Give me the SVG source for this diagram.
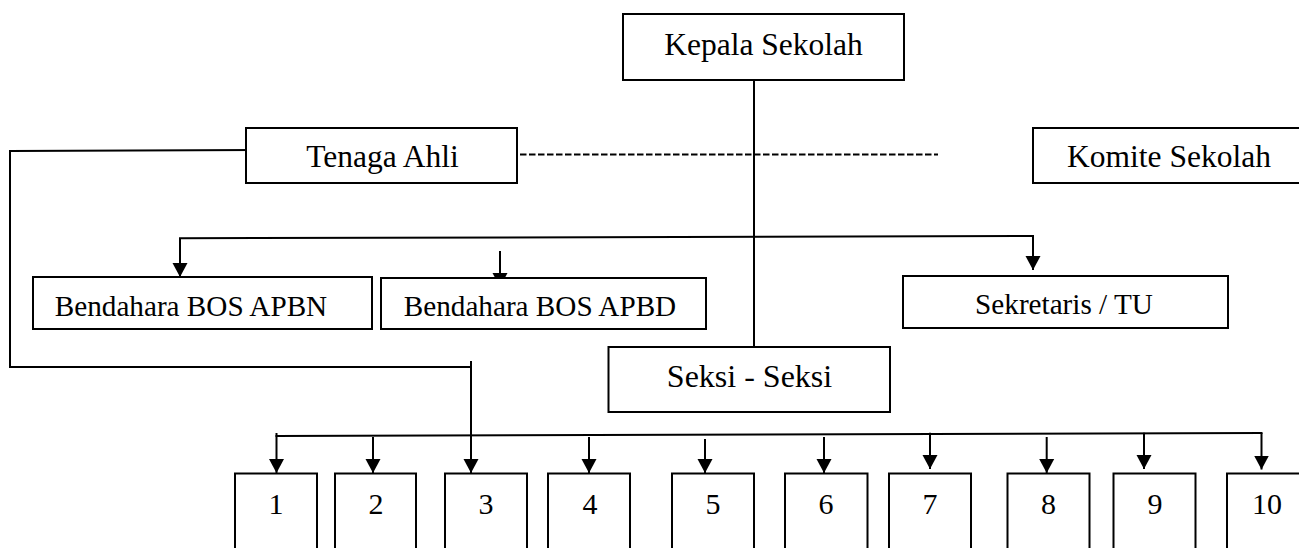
<svg xmlns="http://www.w3.org/2000/svg" width="1299" height="548" viewBox="0 0 1299 548">
<style>
.box{fill:#fff;stroke:#000;stroke-width:2}
.t{font-family:"Liberation Serif","Times New Roman",serif;fill:#000;text-anchor:middle}
.c{fill:none;stroke:#000;stroke-width:2}
.a{fill:none;stroke:#000;stroke-width:2;marker-end:url(#arr)}
.d{fill:none;stroke:#000;stroke-width:1.8;stroke-dasharray:6.5 2.5}
</style>
<defs>
<marker id="arr" markerUnits="userSpaceOnUse" markerWidth="16" markerHeight="16" viewBox="0 0 16 16" refX="14" refY="8" orient="auto">
<path d="M0,0.5 L14,8 L0,15.5 z" fill="#000"/>
</marker>
</defs>
<rect width="1299" height="548" fill="#fff"/>
<g id="connectors">
<line class="c" x1="754" y1="80" x2="754" y2="347"/>
<line class="d" x1="520" y1="154.5" x2="938" y2="154.5"/>
<polyline class="c" points="517,149 10,151 10,367 471,367"/>
<line class="a" x1="471" y1="361" x2="471" y2="473"/>
<line class="c" x1="179" y1="238.3" x2="1034" y2="236"/>
<line class="a" x1="180" y1="238" x2="180" y2="277"/>
<line class="a" x1="500" y1="251" x2="500" y2="287"/>
<line class="a" x1="1033" y1="236" x2="1033" y2="270"/>
<line class="c" x1="275.5" y1="436" x2="1262.5" y2="433"/>
<line class="a" x1="276.5" y1="433" x2="276.5" y2="473"/>
<line class="a" x1="373" y1="437" x2="373" y2="473"/>
<line class="a" x1="589" y1="437" x2="589" y2="473"/>
<line class="a" x1="705" y1="439" x2="705" y2="473"/>
<line class="a" x1="824" y1="437" x2="824" y2="473"/>
<line class="a" x1="930" y1="432.7" x2="930" y2="469"/>
<line class="a" x1="1046.7" y1="437" x2="1046.7" y2="473"/>
<line class="a" x1="1144" y1="432.7" x2="1144" y2="469"/>
<line class="a" x1="1261.5" y1="433" x2="1261.5" y2="469.5"/>
</g>
<g id="kepala"><rect class="box" x="623" y="14" width="281" height="66"/><text class="t" x="763.5" y="55" font-size="31.5">Kepala Sekolah</text></g>
<g id="tenaga"><rect class="box" x="246" y="128" width="271" height="55"/><text class="t" x="382.5" y="167" font-size="31.5">Tenaga Ahli</text></g>
<g id="komite"><rect class="box" x="1033" y="128" width="277" height="55"/><text class="t" x="1169" y="167" font-size="31.5">Komite Sekolah</text></g>
<g id="apbn"><rect class="box" x="33" y="277" width="339" height="52"/><text class="t" x="191" y="316" font-size="29.2">Bendahara BOS APBN</text></g>
<g id="apbd"><rect class="box" x="381" y="278" width="325" height="51"/><text class="t" x="540" y="316" font-size="29.2">Bendahara BOS APBD</text></g>
<g id="sekretaris"><rect class="box" x="903" y="276" width="325" height="52"/><text class="t" x="1064" y="314" font-size="29.2">Sekretaris / TU</text></g>
<g id="seksi"><rect class="box" x="608.5" y="347" width="281.5" height="65"/><text class="t" x="749.5" y="387" font-size="32">Seksi - Seksi</text></g>
<g id="n1"><rect class="box" x="235" y="473.5" width="82" height="90"/><text class="t" x="276" y="514" font-size="30">1</text></g>
<g id="n2"><rect class="box" x="335" y="473.5" width="81" height="90"/><text class="t" x="376" y="514" font-size="30">2</text></g>
<g id="n3"><rect class="box" x="445" y="473.5" width="82" height="90"/><text class="t" x="486" y="514" font-size="30">3</text></g>
<g id="n4"><rect class="box" x="548" y="473.5" width="82" height="90"/><text class="t" x="590" y="514" font-size="30">4</text></g>
<g id="n5"><rect class="box" x="672" y="473.5" width="82" height="90"/><text class="t" x="713" y="514" font-size="30">5</text></g>
<g id="n6"><rect class="box" x="785" y="473.5" width="82.5" height="90"/><text class="t" x="826" y="514" font-size="30">6</text></g>
<g id="n7"><rect class="box" x="889" y="473.5" width="82" height="90"/><text class="t" x="930" y="514" font-size="30">7</text></g>
<g id="n8"><rect class="box" x="1007.5" y="473.5" width="82" height="90"/><text class="t" x="1048.5" y="514" font-size="30">8</text></g>
<g id="n9"><rect class="box" x="1113.5" y="473.5" width="82" height="90"/><text class="t" x="1155" y="514" font-size="30">9</text></g>
<g id="n10"><rect class="box" x="1227" y="473.5" width="82" height="90"/><text class="t" x="1267" y="514" font-size="30">10</text></g>
</svg>
